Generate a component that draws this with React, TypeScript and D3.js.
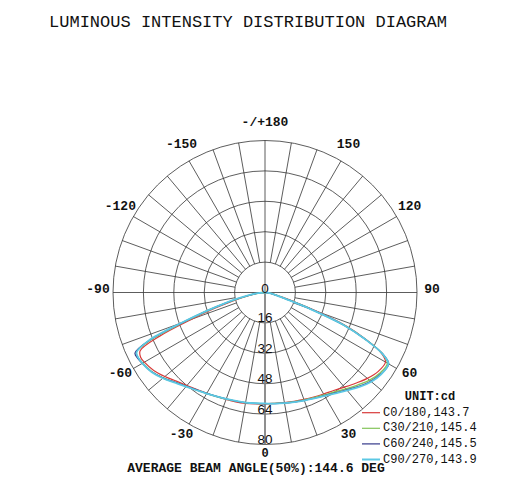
import React from "react";
import * as d3 from "d3";

// gamma angles (degrees from nadir)
const gammas = [0, 5, 10, 15, 20, 25, 30, 35, 40, 45, 50, 55, 60, 62.5, 65, 67.5, 70, 72.5, 75, 77.5, 80, 85, 90];

// intensities (cd), right half (positive angles) and left half (negative angles)
const c0Right = [58.3, 58.5, 58.8, 59.3, 59.9, 60.7, 61.7, 63.0, 65.0, 67.5, 70.3, 72.6, 73.2, 69.0, 59.0, 47.0, 30.0, 16.0, 9.0, 6.0, 4.0, 1.5, 0];
const c0Left = [58.6, 58.9, 59.3, 59.6, 59.9, 60.4, 61.2, 62.3, 63.9, 66.0, 68.8, 71.5, 73.3, 73.8, 72.5, 60.0, 41.0, 28.0, 18.5, 12.0, 7.5, 3.0, 0];
const c30Right = [58.4, 58.6, 59.0, 59.5, 60.2, 61.1, 62.3, 63.9, 66.2, 68.9, 71.8, 73.9, 74.4, 69.5, 58.5, 45.5, 27.0, 14.0, 8.0, 5.5, 3.5, 1.2, 0];
const c30Left = [58.5, 58.6, 58.9, 59.2, 59.7, 60.4, 61.4, 62.7, 64.5, 66.9, 70.0, 72.7, 74.3, 75.0, 74.8, 65.0, 45.0, 31.5, 21.0, 13.5, 8.5, 3.3, 0];
const c60Right = [58.5, 58.7, 59.1, 59.7, 60.4, 61.4, 62.7, 64.5, 66.9, 69.8, 72.6, 74.6, 75.2, 69.8, 58.2, 45.0, 26.0, 13.0, 7.5, 5.0, 3.0, 1.0, 0];
const c60Left = [58.5, 58.6, 58.9, 59.2, 59.6, 60.3, 61.3, 62.6, 64.4, 66.8, 70.0, 72.8, 74.6, 75.4, 75.5, 66.0, 46.0, 32.0, 21.5, 14.0, 9.0, 3.5, 0];
const c90Right = [58.5, 58.7, 59.1, 59.7, 60.5, 61.5, 62.9, 64.8, 67.3, 70.3, 73.0, 74.8, 75.0, 69.5, 58.0, 45.0, 25.0, 12.0, 7.0, 5.0, 3.0, 1.0, 0];
const c90Left = [58.4, 58.5, 58.8, 59.1, 59.6, 60.3, 61.4, 62.8, 64.7, 67.1, 70.2, 72.9, 74.5, 75.0, 74.6, 66.5, 47.0, 32.5, 22.0, 14.5, 9.0, 3.5, 0];

const seriesNames = ["C0/180,143.7", "C30/210,145.4", "C60/240,145.5", "C90/270,143.9"];
const seriesRight = [c0Right, c30Right, c60Right, c90Right];
const seriesLeft = [c0Left, c30Left, c60Left, c90Left];
const seriesColors = ["#d83a3a", "#84c45a", "#34388a", "#5cc8e4"];
const seriesWidths = [1.2, 1.4, 1.2, 1.8];

const ringValues = [16, 32, 48, 64, 80];
const angleLabels = [
  { a: 180, t: "-/+180" },
  { a: 150, t: "150" },
  { a: -150, t: "-150" },
  { a: 120, t: "120" },
  { a: -120, t: "-120" },
  { a: 90, t: "90" },
  { a: -90, t: "-90" },
  { a: 60, t: "60" },
  { a: -60, t: "-60" },
  { a: 30, t: "30" },
  { a: -30, t: "-30" },
  { a: 0, t: "0" },
];

const title = "LUMINOUS INTENSITY DISTRIBUTION DIAGRAM";
const caption = "AVERAGE BEAM ANGLE(50%):144.6 DEG";
const unitLabel = "UNIT:cd";

export default function App() {
  const cx = 265;
  const cy = 292.5;
  const R = 152;
  const r = d3.scaleLinear().domain([0, 80]).range([0, R]);
  const rInner = r(16);

  // angle convention: 0 at bottom, positive to the right; lineRadial angle clockwise from top
  const toRad = (g: number) => ((180 - g) * Math.PI) / 180;
  const pt = (g: number, rad: number) => [cx + rad * Math.sin(toRad(g)), cy - rad * Math.cos(toRad(g))];

  const line = d3
    .lineRadial<[number, number]>()
    .angle((d) => toRad(d[0]))
    .radius((d) => r(d[1]))
    .curve(d3.curveCatmullRom.alpha(0.5));

  const spokes: number[] = d3.range(-170, 181, 10);

  const mono = "'Liberation Mono', 'DejaVu Sans Mono', monospace";

  return (
    <svg width={512} height={500} style={{ position: "absolute", left: 0, top: 0, background: "#fff" }}>
      <rect width={512} height={500} fill="#fff" />
      <text x={248} y={22} textAnchor="middle" dominantBaseline="central" fontFamily={mono} fontSize={17} fill="#111">
        {title}
      </text>
      {/* grid */}
      <g stroke="#333" strokeWidth={0.8} fill="none">
        {ringValues.map((v) => (
          <circle key={v} cx={cx} cy={cy} r={r(v)} />
        ))}
        {spokes.map((g) => {
          const full = g % 90 === 0;
          const [x1, y1] = pt(g, full ? 0 : rInner);
          const [x2, y2] = pt(g, R);
          return <line key={g} x1={x1} y1={y1} x2={x2} y2={y2} />;
        })}
      </g>
      <line x1={cx} y1={cy} x2={cx} y2={cy + R} stroke="#888" strokeWidth={1.6} />
      {/* angle labels */}
      {angleLabels.map((l) => {
        const [x, y] = pt(l.a, l.a === 0 ? 164.5 : 167);
        return (
          <text key={l.t} x={x} y={y - 3} textAnchor="middle" dominantBaseline="central" fontFamily={mono} fontWeight="bold" fontSize={l.a === 0 ? 12 : 13} fill="#111">
            {l.t}
          </text>
        );
      })}
      {/* curves */}
      {seriesNames.map((n, i) => {
        const pts: [number, number][] = [];
        for (let k = gammas.length - 1; k >= 0; k--) pts.push([-gammas[k], seriesLeft[i][k]]);
        for (let k = 1; k < gammas.length; k++) pts.push([gammas[k], seriesRight[i][k]]);
        return (
          <path
            key={n}
            d={line(pts) || ""}
            transform={`translate(${cx},${cy})`}
            fill="none"
            stroke={seriesColors[i]}
            strokeWidth={seriesWidths[i]}
          />
        );
      })}
      {/* ring labels */}
      <text x={cx} y={cy} textAnchor="middle" fontFamily="'Liberation Sans', Arial, sans-serif" fontSize={13.5} fill="#111">
        0
      </text>
      {ringValues.map((v) => (
        <text key={v} x={cx} y={cy + r(v) - 0.5} textAnchor="middle" fontFamily="'Liberation Sans', Arial, sans-serif" fontSize={13.5} fill="#111">
          {v}
        </text>
      ))}
      {/* legend */}
      <text x={430} y={397} textAnchor="middle" dominantBaseline="central" fontFamily={mono} fontWeight="bold" fontSize={12} fill="#111">
        {unitLabel}
      </text>
      {seriesNames.map((n, i) => {
        const y = 412.7 + i * 15.6;
        return (
          <g key={n}>
            <line x1={362} x2={380} y1={y} y2={y} stroke={seriesColors[i]} strokeWidth={i === 3 ? 2 : 1.2} />
            <text x={383} y={y} dominantBaseline="central" fontFamily={mono} fontSize={12} fill="#111">
              {n}
            </text>
          </g>
        );
      })}
      <text x={256} y={468.5} textAnchor="middle" dominantBaseline="central" fontFamily={mono} fontWeight="bold" fontSize={13} fill="#111">
        {caption}
      </text>
    </svg>
  );
}
